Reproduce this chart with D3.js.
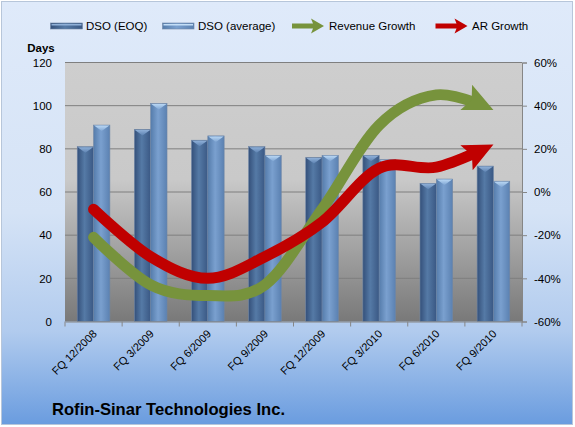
<!DOCTYPE html>
<html>
<head>
<meta charset="utf-8">
<script src="https://cdn.jsdelivr.net/npm/d3@7"></script>
<style>
  body { margin: 0; background: #fff; }
  text { font-family: "Liberation Sans", Arial, sans-serif; fill: #000; }
</style>
</head>
<body>
<svg id="chart"></svg>
<script>
/* chart data */
const quarters = ["FQ 12/2008", "FQ 3/2009", "FQ 6/2009", "FQ 9/2009",
                  "FQ 12/2009", "FQ 3/2010", "FQ 6/2010", "FQ 9/2010"];
const dsoEoq = [81, 89, 84, 81, 76, 77, 64, 72];
const dsoAvg = [91, 101, 86, 77, 77, 75, 66, 65];
const revenueGrowth = [-0.21, -0.43, -0.48, -0.43, -0.08, 0.31, 0.45, 0.38];
const arGrowth = [-0.08, -0.30, -0.40, -0.30, -0.14, 0.11, 0.115, 0.22];
const dayTicks = [0, 20, 40, 60, 80, 100, 120];
const pctTicks = [-0.6, -0.4, -0.2, 0, 0.2, 0.4, 0.6];

function visualize() {
  const width = 575, height = 427;
  const m = {left: 65, right: 522, top: 62.5, bottom: 321.5};
  const svg = d3.select("#chart").attr("width", width).attr("height", height);
  const defs = svg.append("defs");

  function vgrad(id, stops, horizontal) {
    const g = defs.append("linearGradient").attr("id", id)
      .attr("x1", 0).attr("y1", 0)
      .attr("x2", horizontal ? 1 : 0).attr("y2", horizontal ? 0 : 1);
    stops.forEach(s => g.append("stop").attr("offset", s[0]).attr("stop-color", s[1]));
  }
  vgrad("bg", [[0, "#dfeafa"], [0.5, "#d5e3f6"], [0.78, "#b1cbee"], [1, "#6a9cdf"]]);
  vgrad("plotbg", [[0, "#cecece"], [0.45, "#c9c9c9"], [0.72, "#a2a2a2"], [1, "#797979"]]);
  vgrad("eoq", [[0, "#34507a"], [0.45, "#557aa6"], [1, "#3a5884"]], true);
  vgrad("avg", [[0, "#557cab"], [0.45, "#7aa0cf"], [1, "#5b81b1"]], true);
  vgrad("capE", [[0, "#8fb0d8"], [1, "#5e83b2"]]);
  vgrad("capA", [[0, "#b9d7f4"], [1, "#7fa5d3"]]);

  // arrow heads for the growth lines
  [["revArrow", "#77933c"], ["arArrow", "#c00000"]].forEach(([id, c]) => {
    defs.append("marker").attr("id", id)
      .attr("markerUnits", "userSpaceOnUse")
      .attr("markerWidth", 80).attr("markerHeight", 80)
      .attr("viewBox", "-40 -40 80 80")
      .attr("refX", 0).attr("refY", 0)
      .attr("orient", "auto")
      .append("path")
        .attr("d", "M0,0 L-30,-14 L-24,0 L-30,14 Z")
        .attr("fill", c);
  });

  svg.append("rect")
    .attr("x", 1.5).attr("y", 1.5).attr("width", 571).attr("height", 423)
    .attr("fill", "url(#bg)").attr("stroke", "#b7c6da").attr("stroke-width", 1);

  const x = d3.scaleBand().domain(quarters).range([m.left, m.right]);
  const xs = d3.scaleBand().domain(["eoq", "avg"]).range([0, x.bandwidth()]).paddingOuter(0.75);
  const yDays = d3.scaleLinear().domain([0, 120]).range([m.bottom, m.top]);
  const yPct = d3.scaleLinear().domain([-0.6, 0.6]).range([m.bottom, m.top]);

  svg.append("rect")
    .attr("x", m.left).attr("y", m.top)
    .attr("width", m.right - m.left).attr("height", m.bottom - m.top)
    .attr("fill", "url(#plotbg)");

  // gridlines
  svg.append("g").selectAll("line").data(dayTicks.filter(d => d > 0)).join("line")
    .attr("x1", m.left).attr("x2", m.right)
    .attr("y1", d => yDays(d)).attr("y2", d => yDays(d))
    .attr("stroke", "#7f7f7f").attr("stroke-width", 1);

  // bars
  const series = [["eoq", dsoEoq, "url(#eoq)", "url(#capE)"], ["avg", dsoAvg, "url(#avg)", "url(#capA)"]];
  series.forEach(([key, vals, fill, cap]) => {
    const g = svg.append("g");
    const bw = xs.bandwidth();
    g.selectAll("rect").data(vals).join("rect")
      .attr("x", (d, i) => x(quarters[i]) + xs(key))
      .attr("y", d => yDays(d))
      .attr("width", bw)
      .attr("height", d => m.bottom - yDays(d))
      .attr("fill", fill)
      .attr("stroke", "#6f86a6").attr("stroke-width", 0.6);
    g.selectAll("path").data(vals).join("path")
      .attr("d", (d, i) => {
        const x0 = x(quarters[i]) + xs(key), y0 = yDays(d);
        return `M${x0 + 0.5},${y0 + 0.5} L${x0 + bw - 0.5},${y0 + 0.5} L${x0 + bw / 2},${y0 + 6} Z`;
      })
      .attr("fill", cap);
  });

  // x axis
  const xAxis = svg.append("g").attr("transform", `translate(0,${m.bottom})`)
    .call(d3.axisBottom(x).tickSize(0).tickFormat(""));
  xAxis.select(".domain").attr("stroke", "#868686");
  xAxis.append("g").selectAll("line").data(d3.range(quarters.length + 1)).join("line")
    .attr("x1", i => m.left + i * x.step()).attr("x2", i => m.left + i * x.step())
    .attr("y1", 0).attr("y2", 5).attr("stroke", "#868686");
  svg.append("g").selectAll("text").data(quarters).join("text")
    .attr("transform", d => `translate(${x(d) + x.bandwidth() / 2 + 4},${m.bottom + 13}) rotate(-45)`)
    .attr("text-anchor", "end")
    .attr("font-size", 11)
    .text(d => d);

  // left axis
  const yl = svg.append("g").attr("transform", `translate(${m.left},0)`)
    .call(d3.axisLeft(yDays).tickValues(dayTicks).tickSize(0).tickPadding(13));
  yl.select(".domain").remove();
  yl.selectAll("text").attr("font-size", 11.5).attr("font-family", "Liberation Sans, Arial, sans-serif").attr("fill", "#000");
  svg.append("text").attr("x", 41).attr("y", 51.5).attr("text-anchor", "middle")
    .attr("font-size", 11.5).attr("font-weight", "bold").text("Days");

  // right axis
  const pctFmt = d => d3.format(".0%")(d).replace("\u2212", "-");
  const yr = svg.append("g").attr("transform", `translate(${m.right},0)`)
    .call(d3.axisRight(yPct).tickValues(pctTicks).tickSize(5).tickPadding(7).tickFormat(pctFmt));
  yr.select(".domain").attr("stroke", "#868686");
  yr.selectAll("line").attr("stroke", "#868686");
  yr.selectAll("text").attr("font-size", 11.5).attr("font-family", "Liberation Sans, Arial, sans-serif").attr("fill", "#000");

  // growth lines
  const line = d3.line()
    .x((d, i) => x(quarters[i]) + x.bandwidth() / 2)
    .y(d => yPct(d))
    .curve(d3.curveCardinal.tension(0));
  [[revenueGrowth, "#77933c", "revArrow"], [arGrowth, "#c00000", "arArrow"]].forEach(([vals, c, mk]) => {
    const p = svg.append("path")
      .attr("d", line(vals))
      .attr("fill", "none")
      .attr("stroke", c)
      .attr("stroke-width", 11)
      .attr("stroke-linecap", "round")
      .attr("marker-end", `url(#${mk})`);
    const len = p.node().getTotalLength();
    p.attr("stroke-dasharray", `${len - 20} ${len}`);
  });

  // legend
  const lg = svg.append("g");
  const legendY = 26;
  [[50.5, 32, "url(#eoq)", "DSO (EOQ)", 86], [162.5, 31.5, "url(#avg)", "DSO (average)", 198]].forEach(([lx, lw, f, t, tx]) => {
    lg.append("rect").attr("x", lx).attr("y", legendY - 3).attr("width", lw).attr("height", 6)
      .attr("fill", f).attr("stroke", "#6f86a6").attr("stroke-width", 0.6);
    lg.append("rect").attr("x", lx + 1).attr("y", legendY - 2).attr("width", lw - 2).attr("height", 1.5)
      .attr("fill", t === "DSO (EOQ)" ? "#8fb0d8" : "#c3def7");
    lg.append("text").attr("x", tx).attr("y", legendY + 4).attr("font-size", 11.5).text(t);
  });
  [[292, "#77933c", "Revenue Growth", 329], [435.5, "#c00000", "AR Growth", 472]].forEach(([lx, c, t, tx]) => {
    lg.append("path")
      .attr("d", `M${lx},${legendY - 2.5} L${lx + 21},${legendY - 2.5} L${lx + 19},${legendY - 7.5} L${lx + 32},${legendY} L${lx + 19},${legendY + 7.5} L${lx + 21},${legendY + 2.5} L${lx},${legendY + 2.5} Z`)
      .attr("fill", c);
    lg.append("text").attr("x", tx).attr("y", legendY + 4).attr("font-size", 11.5).text(t);
  });

  // title
  svg.append("text").attr("x", 52).attr("y", 415)
    .attr("font-size", 17).attr("font-weight", "bold")
    .attr("textLength", 233).attr("lengthAdjust", "spacingAndGlyphs")
    .text("Rofin-Sinar Technologies Inc.");
}

visualize();
</script>
</body>
</html>
